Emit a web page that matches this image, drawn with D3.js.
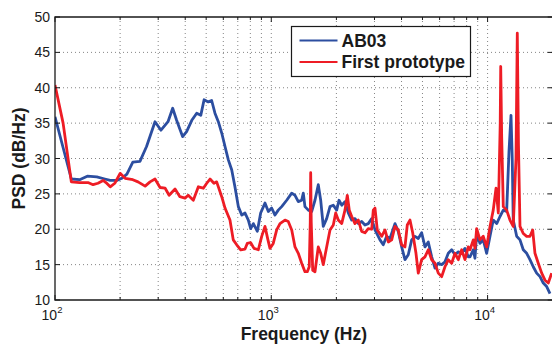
<!DOCTYPE html>
<meta charset="utf-8">
<html>
<style type='text/css'>
  body { margin:0; background:#fff; }
  text { font-family: "Liberation Sans", Arial, sans-serif; fill:#1a1a1a; }
</style>
<script src="https://d3js.org/d3.v7.min.js"></script>
<body>
<svg id="psd" width="552" height="344"></svg>

<script>

// PSD curves (frequency in Hz, PSD in dB/Hz)
var freqAB03 = [100,119,130,141,156,170,180,193,204,215,229,247,265,290,309,333,350,365,389,406,
  429,452,472,489,511,530,549,569,590,611,633,656,679,704,730,756,783,803,826,862,
  893,935,969,1004,1040,1077,1117,1178,1243,1287,1333,1382,1406,1431,1483,1537,1592,1649,1692,1739,
  1803,1868,1935,2006,2056,2116,2191,2270,2354,2437,2525,2618,2711,2808,2912,3016,3181,3294,3415,3537,
  3731,3864,4007,4150,4298,4457,4616,4781,4957,5135,5318,5515,5712,5916,6134,6353,6580,6823,7067,7319,
  7589,7861,8142,8290,8590,8743,8903,9221,9551,9903,10260,10620,11020,11410,11820,12250,12560,12830,13000,13140,
  13630,14120,14620,15160,15700,16260,16860,17470,18090,18760,19430];
var psdAB03 = [35.9,27.1,27.0,27.5,27.4,27.1,26.9,26.9,27.2,27.8,29.5,29.6,31.7,35.2,34.0,35.2,37.1,35.4,33.1,33.8,
  35.4,36.4,36.1,38.3,38.0,38.2,36.4,35.2,33.6,31.7,29.8,28.4,26.0,23.2,22.0,22.3,21.3,20.1,20.8,19.7,
  22.3,23.7,22.5,23.0,22.0,22.7,23.2,24.1,25.1,24.8,23.9,24.1,25.1,23.2,22.7,22.5,24.1,26.3,24.1,20.4,
  21.5,23.2,23.4,22.7,24.1,23.4,23.9,22.3,21.3,21.5,20.8,21.1,20.6,20.8,21.5,19.9,18.5,17.8,19.0,18.7,
  20.8,19.7,17.5,15.7,16.4,18.5,19.0,18.7,19.5,17.5,18.2,16.1,14.5,15.2,15.0,15.4,16.6,17.1,16.4,16.8,
  16.6,17.3,16.1,16.1,17.1,15.9,19.4,18.0,18.5,16.6,19.0,21.3,20.8,21.8,22.7,22.5,31.0,36.1,30.0,21.3,
  19.0,18.5,17.1,16.6,15.7,14.7,13.8,13.3,12.4,11.9,10.9];

var freqProto = [100,109,119,130,142,150,158,167,172,180,189,200,211,229,242,261,275,290,306,323,
  337,359,378,399,413,436,460,485,503,521,543,559,590,611,644,667,692,722,756,774,
  803,832,871,903,935,965,986,1021,1059,1097,1157,1198,1243,1287,1333,1382,1431,1467,1498,1514,
  1521,1530,1554,1592,1649,1692,1739,1803,1868,1935,1985,2040,2116,2191,2246,2294,2354,2437,2525,2618,
  2711,2808,2912,2962,3016,3091,3239,3355,3475,3603,3731,3864,4007,4150,4253,4377,4505,4666,4781,4957,
  5135,5318,5515,5712,5916,6134,6353,6580,6823,7067,7319,7589,7861,8142,8290,8590,8743,8903,9221,9551,
  9903,10260,10620,10940,11210,11440,11500,11620,11820,12250,12690,13140,13530,13720,13890,14120,14620,15160,15700,16160,
  16560,17150,17790,18420,19080,19780];
var psdProto = [40.4,35.0,26.7,26.6,26.6,26.3,26.5,26.9,26.6,26.0,26.5,27.9,27.2,27.0,26.7,26.1,26.7,27.1,25.9,25.8,
  24.8,25.7,24.6,24.4,24.8,24.1,26.0,25.8,26.5,27.1,26.5,26.7,24.6,23.0,21.3,18.5,17.8,17.1,17.2,18.0,
  18.1,17.3,17.1,19.0,20.4,18.5,17.3,18.0,19.9,20.8,21.3,21.1,19.9,17.5,16.6,15.2,14.0,14.0,14.7,21.0,
  28.0,21.0,14.2,14.0,17.5,16.6,15.0,17.5,19.9,20.6,22.3,21.3,20.8,22.7,24.8,22.7,21.8,20.8,21.3,19.7,
  19.5,20.1,20.0,22.7,23.0,19.9,19.0,19.9,18.2,18.5,20.4,19.9,17.8,17.5,20.6,21.3,19.5,16.6,13.8,15.7,
  16.1,17.1,15.7,15.2,13.8,13.3,14.7,15.7,15.2,16.6,15.7,17.1,15.7,17.5,17.1,18.5,17.3,20.1,18.5,19.0,
  17.5,20.4,22.7,25.8,22.3,35.0,43.0,33.0,23.2,22.7,21.3,20.4,30.0,47.7,32.0,20.4,19.4,19.0,19.0,19.9,
  16.6,15.2,13.8,12.8,12.4,13.8];

var seriesNames = ["AB03", "First prototype"];
var seriesColors = ["#2c4ea0", "#ee1c25"];

var yTicks = [10,15,20,25,30,35,40,45,50];
var xMajor = [100,1000,10000];
var xMinor = [200,300,400,500,600,700,800,900,2000,3000,4000,5000,6000,7000,8000,9000,20000];

var L = 55, R = 552.7, T = 17, B = 300;

var svg = d3.select("#psd");

var x = d3.scaleLog().domain([100, 20000]).range([L, R]);
var y = d3.scaleLinear().domain([10, 50]).range([B, T]);

// dotted grid
var grid = svg.append("g").attr("stroke", "#666").attr("stroke-width", 0.8)
  .attr("stroke-dasharray", "1,3").attr("fill", "none");
grid.selectAll(".gy").data(yTicks.slice(1, -1)).enter().append("line")
  .attr("x1", L).attr("x2", R).attr("y1", d => y(d)).attr("y2", d => y(d));
grid.selectAll(".gx").data(xMajor.slice(1).concat(xMinor)).enter().append("line")
  .attr("x1", d => x(d)).attr("x2", d => x(d)).attr("y1", T).attr("y2", B);

// curves
svg.append("clipPath").attr("id", "clip").append("rect")
  .attr("x", L).attr("y", T).attr("width", R - L).attr("height", B - T);

var line = d3.line().x(d => x(d[0])).y(d => y(d[1]));
var curves = [d3.zip(freqAB03, psdAB03), d3.zip(freqProto, psdProto)];
svg.append("g").attr("clip-path", "url(#clip)")
  .selectAll("path").data(curves).enter().append("path")
  .attr("d", line)
  .attr("fill", "none")
  .attr("stroke", (d, i) => seriesColors[i])
  .attr("stroke-width", 2.8)
  .attr("stroke-linejoin", "round");

// axes frame + inward ticks
var frame = svg.append("g").attr("stroke", "#1a1a1a").attr("fill", "none");
frame.append("path").attr("d", "M" + R + "," + T + "H" + L + "V" + B + "H" + R)
  .attr("stroke-width", 1.3);
frame.selectAll(".ty").data(yTicks).enter().append("path")
  .attr("d", d => "M" + L + "," + y(d) + "h5M" + R + "," + y(d) + "h-5");
frame.selectAll(".tx").data(xMajor).enter().append("path")
  .attr("d", d => "M" + x(d) + "," + B + "v-5M" + x(d) + "," + T + "v5");
frame.selectAll(".tm").data(xMinor).enter().append("path")
  .attr("d", d => "M" + x(d) + "," + B + "v-3M" + x(d) + "," + T + "v3");

// tick labels
svg.append("g").selectAll("text").data(yTicks).enter().append("text")
  .attr("x", L - 5).attr("y", d => y(d)).attr("dy", "0.36em")
  .attr("text-anchor", "end").attr("font-size", 14)
  .text(d => d);

var xl = svg.append("g").selectAll("text").data(xMajor).enter().append("text")
  .attr("x", d => x(d) - 3).attr("y", 320)
  .attr("text-anchor", "middle").attr("font-size", 14);
xl.append("tspan").text("10");
xl.append("tspan").attr("dy", -7).attr("font-size", 9.5).text(d => Math.round(Math.log10(d)));

// axis titles
svg.append("text").attr("x", (L + R) / 2).attr("y", 340)
  .attr("text-anchor", "middle").attr("font-size", 17.5).attr("font-weight", "bold")
  .text("Frequency (Hz)");
svg.append("text").attr("transform", "translate(25," + ((T + B) / 2) + ") rotate(-90)")
  .attr("text-anchor", "middle").attr("font-size", 17.5).attr("font-weight", "bold")
  .text("PSD (dB/Hz)");

// legend
var lg = svg.append("g").attr("transform", "translate(291.5,26.5)");
lg.append("rect").attr("width", 179).attr("height", 50)
  .attr("fill", "#fff").attr("stroke", "#1a1a1a").attr("stroke-width", 1.2);
var item = lg.selectAll(".it").data(seriesNames).enter().append("g")
  .attr("transform", (d, i) => "translate(0," + (14 + i * 21.5) + ")");
item.append("line").attr("x1", 8).attr("x2", 46)
  .attr("stroke", (d, i) => seriesColors[i]).attr("stroke-width", 2);
item.append("text").attr("x", 50).attr("dy", "0.36em")
  .attr("font-size", 17.5).attr("font-weight", "bold").text(d => d);

</script>
</body>
</html>
